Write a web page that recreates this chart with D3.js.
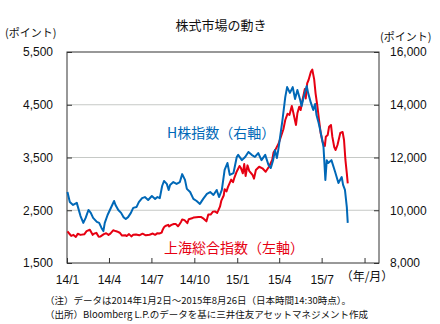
<!DOCTYPE html>
<html><head><meta charset="utf-8">
<script src="https://cdn.jsdelivr.net/npm/d3@7"></script>
<style>body{margin:0;background:#fff}</style>
</head><body><svg id="c" width="440" height="324"></svg>
<script>
// ---- data ----
const leftTicks = [1500, 2500, 3500, 4500, 5500];
const rightTicks = [8000, 10000, 12000, 14000, 16000];
const xTickDates = ["2014-01-01","2014-04-01","2014-07-01","2014-10-01","2015-01-01","2015-04-01","2015-07-01","2015-10-01"];
const xTickLabels = ["14/1","14/4","14/7","14/10","15/1","15/4","15/7",""];

const hDates = ["2014-01-02","2014-01-07","2014-01-14","2014-01-22","2014-01-25","2014-01-30","2014-02-05","2014-02-10","2014-02-16","2014-02-21","2014-02-26","2014-03-06","2014-03-11","2014-03-16","2014-03-20","2014-03-23","2014-03-29","2014-04-03","2014-04-08","2014-04-12","2014-04-15","2014-04-21","2014-04-27","2014-05-02","2014-05-07","2014-05-12","2014-05-18","2014-05-23","2014-05-30","2014-06-04","2014-06-11","2014-06-17","2014-06-24","2014-07-02","2014-07-09","2014-07-14","2014-07-19","2014-07-24","2014-07-28","2014-08-03","2014-08-07","2014-08-10","2014-08-17","2014-08-24","2014-08-31","2014-09-05","2014-09-11","2014-09-15","2014-09-22","2014-09-29","2014-10-06","2014-10-13","2014-10-20","2014-10-28","2014-11-04","2014-11-11","2014-11-18","2014-11-23","2014-11-29","2014-12-05","2014-12-11","2014-12-16","2014-12-24","2014-12-31","2015-01-03","2015-01-11","2015-01-18","2015-01-25","2015-02-01","2015-02-08","2015-02-15","2015-02-22","2015-03-02","2015-03-09","2015-03-14","2015-03-19","2015-03-23","2015-03-27","2015-03-30","2015-04-03","2015-04-08","2015-04-14","2015-04-18","2015-04-24","2015-04-30","2015-05-05","2015-05-10","2015-05-16","2015-05-19","2015-05-24","2015-05-30","2015-06-02","2015-06-08","2015-06-13","2015-06-17","2015-06-20","2015-06-24","2015-06-27","2015-07-01","2015-07-05","2015-07-09","2015-07-12","2015-07-15","2015-07-22","2015-07-30","2015-08-06","2015-08-13","2015-08-16","2015-08-20","2015-08-24","2015-08-26"];
const hValues = [10690,10310,10200,10280,10090,9780,9520,9710,10010,9900,9710,9560,9520,9330,9210,9520,9820,10010,10200,10350,10200,10010,9900,9740,9670,9740,9900,10090,10120,10310,10460,10500,10390,10540,10430,10500,10460,10920,11110,11000,10770,10960,11070,11000,11070,11370,11150,10810,10690,10430,10350,10240,10430,10620,10690,10580,10770,10500,10770,11530,11790,11340,11410,12020,12100,11900,12020,12210,12100,12020,12170,11900,12100,11720,11600,11900,12280,11980,12280,12780,13420,14290,14670,14450,14670,14220,14560,14180,13950,14330,14710,14450,14070,13800,14030,13610,13350,13120,12780,12400,11150,11900,11790,11900,11450,11030,11260,10960,10770,10120,9520];

const shDates = ["2014-01-02","2014-01-07","2014-01-10","2014-01-15","2014-01-20","2014-01-24","2014-01-30","2014-02-07","2014-02-12","2014-02-19","2014-02-25","2014-02-28","2014-03-05","2014-03-10","2014-03-14","2014-03-21","2014-03-26","2014-03-31","2014-04-04","2014-04-10","2014-04-15","2014-04-18","2014-04-24","2014-04-29","2014-05-06","2014-05-09","2014-05-14","2014-05-19","2014-05-23","2014-05-29","2014-06-05","2014-06-12","2014-06-19","2014-06-27","2014-07-04","2014-07-09","2014-07-14","2014-07-18","2014-07-23","2014-07-25","2014-07-28","2014-07-31","2014-08-06","2014-08-08","2014-08-13","2014-08-18","2014-08-22","2014-08-27","2014-08-29","2014-09-03","2014-09-05","2014-09-10","2014-09-16","2014-09-19","2014-09-26","2014-09-30","2014-10-10","2014-10-15","2014-10-21","2014-10-27","2014-10-31","2014-11-05","2014-11-10","2014-11-14","2014-11-19","2014-11-21","2014-11-25","2014-11-28","2014-12-03","2014-12-05","2014-12-09","2014-12-12","2014-12-16","2014-12-19","2014-12-23","2014-12-26","2014-12-31","2015-01-06","2015-01-09","2015-01-13","2015-01-16","2015-01-19","2015-01-23","2015-01-27","2015-02-03","2015-02-06","2015-02-10","2015-02-17","2015-02-24","2015-03-03","2015-03-10","2015-03-17","2015-03-20","2015-03-24","2015-03-31","2015-04-07","2015-04-10","2015-04-14","2015-04-19","2015-04-23","2015-04-28","2015-04-30","2015-05-07","2015-05-10","2015-05-14","2015-05-17","2015-05-21","2015-05-26","2015-05-28","2015-05-31","2015-06-03","2015-06-08","2015-06-11","2015-06-15","2015-06-18","2015-06-22","2015-06-25","2015-06-29","2015-07-03","2015-07-08","2015-07-10","2015-07-14","2015-07-17","2015-07-21","2015-07-24","2015-07-28","2015-07-31","2015-08-04","2015-08-10","2015-08-15","2015-08-18","2015-08-21","2015-08-24","2015-08-26"];
const shValues = [2100,2045,2013,2033,1995,2054,2033,2044,2104,2130,2034,2056,2071,1999,2004,2047,2064,2033,2058,2120,2105,2098,2074,2020,2028,2011,2047,2005,2034,2040,2025,2056,2024,2036,2059,2034,2066,2059,2076,2127,2178,2201,2224,2194,2222,2239,2241,2197,2217,2288,2326,2312,2255,2329,2347,2364,2374,2373,2340,2290,2420,2419,2474,2478,2450,2487,2567,2683,2779,2900,2856,2938,3021,3080,3032,3120,3235,3340,3300,3200,3376,3150,3351,3240,3168,3100,3263,3325,3295,3231,3325,3453,3600,3650,3770,3958,4035,4211,4330,4306,4476,4400,4116,4338,4463,4400,4590,4800,4620,4906,4969,5126,5165,4980,4717,4463,4243,3959,3800,3720,3894,3927,4085,4117,3890,3699,3642,3737,3964,3983,3832,3453,3200,3011];

// ---- chart ----
const parse = d3.timeParse("%Y-%m-%d");
const svg = d3.select("#c");
svg.append("rect").attr("width",440).attr("height",324).attr("fill","#fff");

const L = 67, R = 379, T = 52, B = 263;
const x = d3.scaleTime().domain([parse("2014-01-01"), parse("2015-11-01")]).range([L, R]);
const yL = d3.scaleLinear().domain([1500, 5500]).range([B, T]);
const yR = d3.scaleLinear().domain([8000, 16000]).range([B, T]);

const jp = "'Noto Sans CJK JP', sans-serif";
const num = "'Liberation Sans', Arial, sans-serif";

// gridlines
svg.append("g").selectAll("line").data(leftTicks.slice(1, -1)).join("line")
  .attr("x1", L).attr("x2", R).attr("y1", d => yL(d)).attr("y2", d => yL(d))
  .attr("stroke", "#c6c9c6").attr("stroke-width", 1.2);

// axes
const gL = svg.append("g").attr("transform", `translate(${L},0)`)
  .call(d3.axisLeft(yL).tickValues(leftTicks).tickFormat(d3.format(",")).tickSizeInner(-5).tickSizeOuter(0).tickPadding(14));
const gR = svg.append("g").attr("transform", `translate(${R},0)`)
  .call(d3.axisRight(yR).tickValues(rightTicks).tickFormat(d3.format(",")).tickSizeInner(-5).tickSizeOuter(0).tickPadding(11));
const gX = svg.append("g").attr("transform", `translate(0,${B})`)
  .call(d3.axisBottom(x).tickValues(xTickDates.map(parse)).tickFormat((d, i) => xTickLabels[i]).tickSizeInner(-5).tickSizeOuter(0).tickPadding(12));
[gL, gR, gX].forEach(g => {
  g.selectAll("path.domain").remove();
  g.selectAll("line").attr("stroke", "#333");
  g.selectAll("text").attr("font-family", num).attr("font-size", 12).attr("fill", "#111");
});

// frame
svg.append("rect").attr("x", L).attr("y", T).attr("width", R - L).attr("height", B - T)
  .attr("fill", "none").attr("stroke", "#333").attr("stroke-width", 1);

// lines
const hData = hDates.map((d, i) => ({ d: parse(d), v: hValues[i] }));
const shData = shDates.map((d, i) => ({ d: parse(d), v: shValues[i] }));
svg.append("path").datum(shData)
  .attr("d", d3.line().x(p => x(p.d)).y(p => yL(p.v)))
  .attr("fill", "none").attr("stroke", "#e60012").attr("stroke-width", 2).attr("stroke-linejoin", "round");
svg.append("path").datum(hData)
  .attr("d", d3.line().x(p => x(p.d)).y(p => yR(p.v)))
  .attr("fill", "none").attr("stroke", "#0068b7").attr("stroke-width", 2).attr("stroke-linejoin", "round");

// texts
svg.append("text").attr("x", 221).attr("y", 30).attr("text-anchor", "middle")
  .attr("font-family", jp).attr("font-size", 13).attr("fill", "#111").text("株式市場の動き");
svg.append("text").attr("x", 5).attr("y", 37).attr("font-family", jp).attr("font-size", 11).attr("fill", "#111").text("(ポイント)");
svg.append("text").attr("x", 380).attr("y", 41).attr("font-family", jp).attr("font-size", 11).attr("fill", "#111").text("(ポイント)");
svg.append("text").attr("x", 367).attr("y", 281).attr("text-anchor", "middle").attr("font-family", jp).attr("font-size", 12).attr("fill", "#111").text("（年/月）");

svg.append("text").attr("x", 167).attr("y", 138).attr("font-family", jp).attr("font-size", 14).attr("fill", "#0068b7").text("H株指数（右軸）");
svg.append("text").attr("x", 164).attr("y", 253).attr("font-family", jp).attr("font-size", 14).attr("fill", "#e60012").text("上海総合指数（左軸）");

svg.append("text").attr("x", 45).attr("y", 304).attr("font-family", jp).attr("font-size", 9.5).attr("fill", "#111")
  .text("（注）データは2014年1月2日～2015年8月26日（日本時間14:30時点）。");
svg.append("text").attr("x", 45).attr("y", 318).attr("font-family", jp).attr("font-size", 9.5).attr("fill", "#111")
  .text("（出所）Bloomberg L.P.のデータを基に三井住友アセットマネジメント作成");
</script>
</body></html>
